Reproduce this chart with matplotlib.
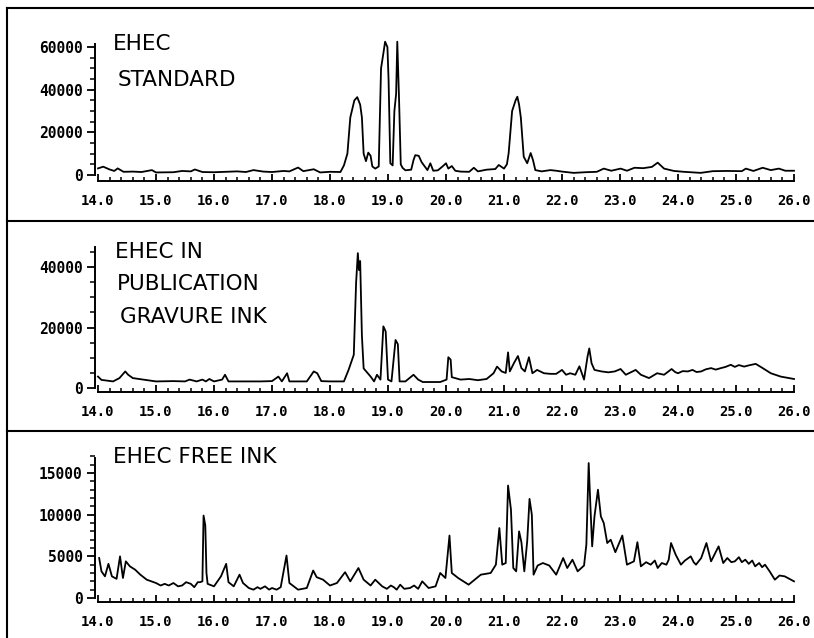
import numpy as np
import matplotlib
matplotlib.use("Agg")
import matplotlib.pyplot as plt
from matplotlib.ticker import MultipleLocator, FormatStrFormatter
from matplotlib.lines import Line2D

# retention time (min) and abundance
t_std = [14.00, 14.09, 14.20, 14.28, 14.34, 14.44, 14.60, 14.75, 14.93, 15.00,
         15.30, 15.45, 15.60, 15.67, 15.80, 16.00, 16.20, 16.40, 16.55, 16.68,
         16.85, 17.00, 17.20, 17.30, 17.45, 17.54, 17.72, 17.83, 18.00, 18.18,
         18.24, 18.30, 18.35, 18.42, 18.47, 18.52, 18.55, 18.58, 18.62, 18.66,
         18.70, 18.73, 18.78, 18.84, 18.88, 18.92, 18.95, 18.99, 19.01, 19.04,
         19.08, 19.11, 19.14, 19.16, 19.19, 19.22, 19.25, 19.30, 19.40, 19.44,
         19.47, 19.53, 19.58, 19.68, 19.73, 19.78, 19.86, 19.94, 20.00, 20.04,
         20.10, 20.16, 20.25, 20.40, 20.48, 20.55, 20.70, 20.85, 20.91, 21.00,
         21.05, 21.08, 21.14, 21.20, 21.23, 21.26, 21.29, 21.34, 21.40, 21.46,
         21.50, 21.54, 21.65, 21.80, 21.90, 22.00, 22.20, 22.40, 22.60, 22.72,
         22.85, 23.01, 23.12, 23.25, 23.40, 23.55, 23.65, 23.76, 23.93, 24.10,
         24.39, 24.60, 24.85, 25.10, 25.17, 25.30, 25.46, 25.60, 25.74, 25.85,
         26.00]
v_std = [3100, 3900, 2600, 1900, 3100, 1500, 1600, 1400, 2300, 1200,
         1300, 1900, 1700, 2600, 1400, 1300, 1500, 1700, 1400, 2300,
         1600, 1400, 1900, 1700, 3500, 1800, 2700, 1200, 1500, 1400,
         4500, 10000, 27000, 35000, 36500, 33000, 27000, 10000, 6500, 10500,
         9000, 4000, 3000, 4000, 50000, 57000, 62500, 60000, 44500, 5500,
         4500, 30000, 38000, 62500, 36000, 5000, 3400, 2200, 2500, 7000,
         9300, 9000, 6000, 2300, 5500, 2000, 2200, 4000, 5500, 3000,
         4200, 2000, 1600, 1500, 3400, 1700, 2500, 2800, 4700, 3000,
         5000, 10200, 30000, 35000, 36700, 33000, 27000, 8600, 5500, 10300,
         7000, 2300, 1700, 2300, 2000, 1600, 1000, 1300, 1500, 3000,
         2000, 3000, 2000, 3400, 3200, 3800, 5800, 3000, 1900, 1500,
         1000, 1800, 1900, 1800, 3000, 1900, 3400, 2300, 3000, 2000,
         2000]

t_pub = [14.00, 14.06, 14.26, 14.37, 14.47, 14.52, 14.60, 14.78, 15.00, 15.30,
         15.50, 15.58, 15.70, 15.80, 15.86, 15.92, 16.00, 16.14, 16.19, 16.25,
         16.50, 16.80, 17.00, 17.11, 17.17, 17.26, 17.30, 17.60, 17.72, 17.78,
         17.85, 18.00, 18.24, 18.32, 18.41, 18.45, 18.48, 18.50, 18.52, 18.55,
         18.58, 18.70, 18.76, 18.81, 18.87, 18.92, 18.96, 19.00, 19.06, 19.13,
         19.17, 19.20, 19.30, 19.44, 19.52, 19.60, 19.90, 20.01, 20.04, 20.08,
         20.10, 20.25, 20.40, 20.55, 20.70, 20.82, 20.88, 20.96, 21.03, 21.07,
         21.10, 21.17, 21.24, 21.30, 21.36, 21.43, 21.49, 21.57, 21.69, 21.80,
         21.90, 22.00, 22.07, 22.14, 22.23, 22.30, 22.38, 22.44, 22.47, 22.51,
         22.56, 22.68, 22.80, 22.91, 23.01, 23.10, 23.27, 23.36, 23.50, 23.64,
         23.76, 23.89, 23.95, 24.00, 24.08, 24.17, 24.25, 24.32, 24.40, 24.48,
         24.57, 24.65, 24.74, 24.82, 24.91, 24.98, 25.05, 25.14, 25.22, 25.34,
         25.46, 25.60, 25.77, 26.00]
v_pub = [3800, 2700, 2200, 3300, 5500, 4400, 3300, 2800, 2200, 2300,
         2200, 2800, 2200, 2800, 2200, 3000, 2200, 2800, 4400, 2200,
         2200, 2200, 2300, 3800, 2200, 4900, 2200, 2200, 5500, 4900,
         2300, 2200, 2200, 6000, 11000, 34800, 44600, 39000, 42000, 17400,
         6500, 3800, 2200, 4400, 2800, 20400, 18700, 2800, 2200, 15900,
         14500, 2200, 2200, 4400, 2800, 2000, 2000, 2800, 10200, 9400,
         3600, 2800, 3000, 2600, 3000, 4900, 7100, 5500, 5000, 11800,
         5500, 8200, 10600, 6600, 5500, 10200, 4900, 6000, 4900, 4700,
         4700, 6000, 4400, 4900, 4400, 7200, 2800, 10400, 13100, 8200,
         6000, 5500, 5200, 5500, 6300, 4400, 6000, 4400, 3300, 4900,
         4400, 6300, 5300, 4900, 5600, 5500, 6000, 5300, 5500, 6200,
         6600, 6100, 6600, 7000, 7700, 7000, 7600, 7100, 7500, 8000,
         6600, 4900, 3800, 3000]

t_free = [14.02, 14.06, 14.12, 14.18, 14.24, 14.32, 14.38, 14.43, 14.48, 14.55,
          14.64, 14.73, 14.84, 15.00, 15.08, 15.15, 15.22, 15.30, 15.38, 15.45,
          15.52, 15.60, 15.66, 15.72, 15.76, 15.80, 15.82, 15.85, 15.87, 15.89,
          16.00, 16.12, 16.21, 16.25, 16.34, 16.44, 16.50, 16.60, 16.68, 16.75,
          16.80, 16.88, 16.95, 17.00, 17.08, 17.15, 17.25, 17.30, 17.45, 17.60,
          17.71, 17.77, 17.88, 18.00, 18.12, 18.26, 18.35, 18.49, 18.58, 18.70,
          18.78, 18.90, 18.98, 19.05, 19.10, 19.15, 19.21, 19.28, 19.38, 19.45,
          19.52, 19.59, 19.70, 19.82, 19.90, 19.99, 20.06, 20.10, 20.21, 20.39,
          20.60, 20.77, 20.86, 20.92, 20.97, 21.03, 21.07, 21.12, 21.16, 21.21,
          21.26, 21.30, 21.35, 21.40, 21.44, 21.48, 21.51, 21.58, 21.67, 21.78,
          21.90, 22.02, 22.09, 22.18, 22.27, 22.38, 22.42, 22.46, 22.49, 22.52,
          22.56, 22.62, 22.67, 22.72, 22.78, 22.84, 22.92, 23.04, 23.12, 23.24,
          23.30, 23.36, 23.45, 23.53, 23.60, 23.65, 23.72, 23.80, 23.84, 23.88,
          23.96, 24.05, 24.12, 24.22, 24.27, 24.31, 24.40, 24.49, 24.57, 24.70,
          24.78, 24.85, 24.92, 24.98, 25.05, 25.10, 25.16, 25.22, 25.28, 25.33,
          25.40, 25.45, 25.50, 25.58, 25.67, 25.75, 25.84, 25.92, 26.00]
v_free = [4800, 3200, 2600, 4100, 2600, 2300, 5000, 2400, 4400, 3800,
          3400, 2800, 2200, 1800, 1500, 1700, 1500, 1800, 1400, 1500,
          1900, 1700, 1300, 1900, 1900, 2000, 9900, 8700, 3000, 1700,
          1400, 2600, 4100, 1900, 1400, 2800, 1800, 1200, 1000, 1300,
          1100, 1400, 1000, 1200, 1000, 1300, 5100, 1800, 1000, 1200,
          3300, 2500, 2200, 1500, 1800, 3100, 2000, 3600, 2200, 1500,
          2200, 1400, 1100, 1500, 1300, 1000, 1600, 1100, 1200, 1500,
          1100, 2000, 1200, 1400, 3000, 2400, 7500, 3000, 2400, 1600,
          2800, 3000, 4000, 8400, 4000, 4200, 13500, 10600, 3600, 3200,
          8000, 6700, 3200, 6800, 11900, 10000, 2800, 3900, 4200, 3900,
          2800, 4800, 3600, 4600, 3200, 3900, 6400, 16200, 11000, 6200,
          9800, 13000, 9800, 9000, 6600, 7000, 5500, 7500, 4000, 4400,
          6700, 3800, 4300, 4000, 4500, 3600, 4200, 4000, 4600, 6600,
          5200, 4000, 4500, 5000, 4300, 4000, 4800, 6600, 4400, 6200,
          4200, 4800, 4300, 4400, 4900, 4300, 4600, 4100, 4500, 3800,
          4200, 3700, 4000, 3200, 2200, 2700, 2600, 2300, 2000]

labels = [["EHEC", "STANDARD"], ["EHEC IN", "PUBLICATION", "GRAVURE INK"], ["EHEC FREE INK"]]
y_major = [[0, 20000, 40000, 60000], [0, 20000, 40000], [0, 5000, 10000, 15000]]

plt.rcParams['font.family'] = 'DejaVu Sans Mono'
plt.rcParams['font.weight'] = 'bold'

W, H = 814, 638
fig = plt.figure(figsize=(W / 100, H / 100), dpi=100)

def fx(px):
    return px / W

def fy(py):
    return 1 - py / H

# axis-box placement in pixels: bottom edge, top edge, ylim, top of y spine, minor step
panels = [
    (181, 38.5, (-2810, 64000), 61500, 5000),
    (392, 245.9, (-1300, 47000), 46500, 5000),
    (602, 456.4, (-480, 17000), 16800, 1000),
]
series = [(t_std, v_std), (t_pub, v_pub), (t_free, v_free)]

for i, (bot, top, ylim, spine_top, minor) in enumerate(panels):
    ax = fig.add_axes([fx(98), fy(bot), fx(794) - fx(98), (bot - top) / H])
    t, v = series[i]
    ax.plot(t, v, color='black', lw=1.3, clip_on=False)
    ax.set_xlim(14, 26)
    ax.set_ylim(*ylim)
    ax.patch.set_visible(False)
    ax.spines['top'].set_visible(False)
    ax.spines['right'].set_visible(False)
    ax.spines['left'].set_position(('outward', 2))
    ax.spines['left'].set_bounds(0, spine_top)
    ax.spines['bottom'].set_bounds(14, 26)
    for s in ('left', 'bottom'):
        ax.spines[s].set_linewidth(1.4)
    ax.xaxis.set_major_locator(MultipleLocator(1))
    ax.xaxis.set_minor_locator(MultipleLocator(0.2))
    ax.xaxis.set_major_formatter(FormatStrFormatter('%.1f'))
    ax.set_yticks(y_major[i])
    ax.yaxis.set_minor_locator(MultipleLocator(minor))
    ax.yaxis.set_major_formatter(FormatStrFormatter('%d'))
    ax.tick_params(axis='x', which='major', direction='in', length=5, width=1.3,
                   pad=9.5, labelsize=10)
    ax.tick_params(axis='x', which='minor', direction='in', length=2.8, width=1.1)
    ax.tick_params(axis='y', which='major', direction='out', length=6, width=1.3,
                   pad=3, labelsize=10.5)
    ax.tick_params(axis='y', which='minor', direction='out', length=3.5, width=1.1)

# panel captions (pixel x, baseline y)
caption_pos = [[(113, 50), (118, 86)],
               [(115, 258), (117, 290), (120, 323)],
               [(113, 463)]]
for lines, pos in zip(labels, caption_pos):
    for s, (px, py) in zip(lines, pos):
        fig.text(fx(px), fy(py), s, family='DejaVu Sans', weight='normal',
                 fontsize=15.5, va='baseline', ha='left')

# frame lines of the printout
ln = dict(transform=fig.transFigure, color='black', lw=1.5)
fig.add_artist(Line2D([fx(7), 1], [fy(8), fy(8)], **ln))
fig.add_artist(Line2D([fx(7), fx(7)], [0, fy(8)], **ln))
fig.add_artist(Line2D([fx(7), 1], [fy(220.5), fy(220.5)], **ln))
fig.add_artist(Line2D([fx(7), 1], [fy(430.5), fy(430.5)], **ln))

fig.savefig('out.png', dpi=100)
